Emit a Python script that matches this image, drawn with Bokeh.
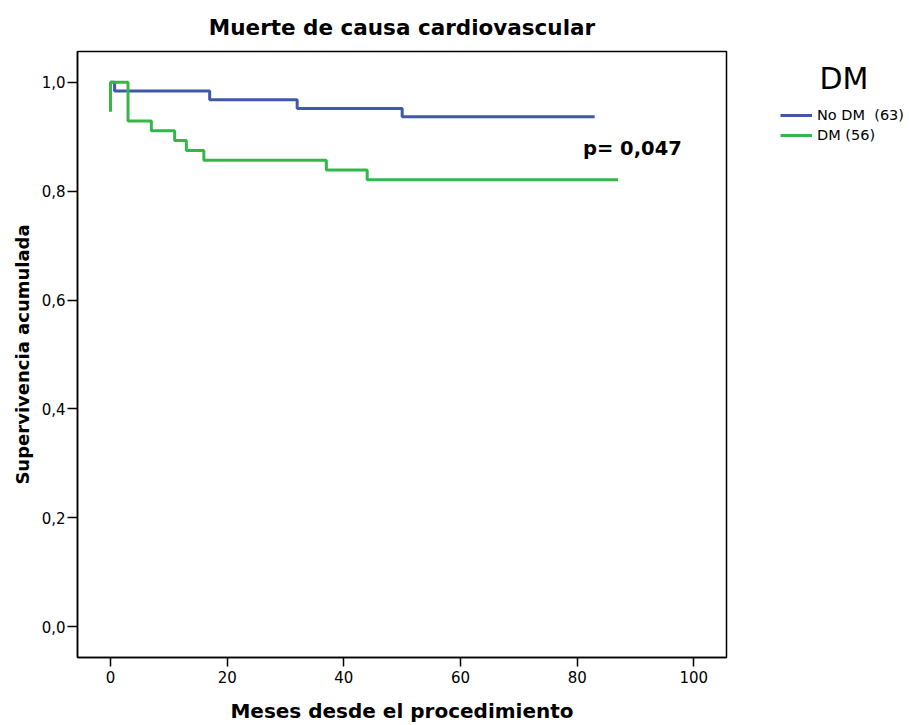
from bokeh.plotting import figure
from bokeh.layouts import row
from bokeh.models import (Range1d, FixedTicker, CustomJSTickFormatter, Label,
                          Legend, LegendItem)
from bokeh.embed import file_html
from bokeh.resources import INLINE

# Data (Kaplan-Meier steps)
nodm_time = [0, 0.7, 17, 32, 50, 83]
nodm_surv = [1.0, 0.984, 0.968, 0.952, 0.937, 0.937]
dm_time = [0, 0, 3, 7, 11, 13, 16, 37, 44, 87]
dm_surv = [0.946, 1.0, 0.929, 0.911, 0.893, 0.875, 0.857, 0.839, 0.821, 0.821]
series_names = ["No DM  (63)", "DM (56)"]
legend_title = "DM"
x_ticks = [0, 20, 40, 60, 80, 100]
y_ticks = [0.0, 0.2, 0.4, 0.6, 0.8, 1.0]
p_text = "p= 0,047"

BLUE = "#3F58A8"
GREEN = "#34B74A"

p = figure(width=730, height=725, output_backend="svg", toolbar_location=None,
           x_range=Range1d(-5.66, 105.6), y_range=Range1d(-0.0567, 1.0567),
           min_border_left=77, min_border_right=4, min_border_top=51,
           min_border_bottom=65)

p.title.text = "Muerte de causa cardiovascular"
p.title.align = "center"
p.title.text_font = "DejaVu Sans"
p.title.text_font_style = "bold"
p.title.text_font_size = "21.5px"
p.title.text_color = "black"
p.title.standoff = 23

p.xgrid.visible = False
p.ygrid.visible = False
p.outline_line_color = "black"
p.outline_line_width = 1.5
p.background_fill_color = "white"
p.border_fill_color = "white"

for ax in (p.xaxis[0], p.yaxis[0]):
    ax.axis_line_color = "black"
    ax.axis_line_width = 1.5
    ax.major_tick_line_color = "black"
    ax.major_tick_line_width = 1.5
    ax.major_tick_in = 0
    ax.minor_tick_line_color = None
    ax.major_label_text_font = "DejaVu Sans"
    ax.major_label_text_font_size = "15px"
    ax.major_label_text_color = "black"
    ax.axis_label_text_font = "DejaVu Sans"
    ax.axis_label_text_font_style = "bold"
    ax.axis_label_text_color = "black"

p.xaxis.ticker = FixedTicker(ticks=x_ticks)
p.xaxis.major_tick_out = 9
p.xaxis.major_label_standoff = 4
p.xaxis.axis_label = "Meses desde el procedimiento"
p.xaxis.axis_label_text_font_size = "20px"
p.xaxis.axis_label_standoff = 13

p.yaxis.ticker = FixedTicker(ticks=y_ticks)
p.yaxis.formatter = CustomJSTickFormatter(code="return tick.toFixed(1).replace('.', ',');")
p.yaxis.major_tick_out = 10
p.yaxis.major_label_standoff = 2
p.yaxis.axis_label = "Supervivencia acumulada"
p.yaxis.axis_label_text_font_size = "18px"
p.yaxis.axis_label_standoff = 6

p.step(nodm_time, nodm_surv, mode="after", line_color=BLUE, line_width=3)
p.step(dm_time, dm_surv, mode="after", line_color=GREEN, line_width=3)

p.add_layout(Label(x=81, y=0.879, text=p_text, text_font="DejaVu Sans",
                   text_font_style="bold", text_font_size="19.5px",
                   text_baseline="middle", text_color="black"))

# Legend panel (separate figure at the right; frame aligned with main frame,
# ranges in pixels measured from the bottom/left of the page region)
lg = figure(width=179, height=725, output_backend="svg", toolbar_location=None,
            x_range=Range1d(0, 179), y_range=Range1d(65, 674),
            x_axis_type=None, y_axis_type=None,
            min_border_left=0, min_border_right=0, min_border_top=51,
            min_border_bottom=65)
lg.xgrid.visible = False
lg.ygrid.visible = False
lg.outline_line_color = None
lg.background_fill_color = "white"
lg.border_fill_color = "white"

g1 = lg.step(nodm_time, nodm_surv, mode="after", line_color=BLUE, line_width=3,
             visible=False)
g2 = lg.step(dm_time, dm_surv, mode="after", line_color=GREEN, line_width=3,
             visible=False)

lg.add_layout(Label(x=89, y=647, text=legend_title, text_font="DejaVu Sans",
                    text_font_size="30px", text_baseline="middle",
                    text_color="black"))

legend = Legend(items=[LegendItem(label=series_names[0], renderers=[g1]),
                       LegendItem(label=series_names[1], renderers=[g2])],
                location=(50, 512), padding=0, margin=0, spacing=0,
                border_line_color=None, background_fill_alpha=0,
                glyph_width=32, glyph_height=20, label_height=20,
                label_standoff=5, label_text_font="DejaVu Sans",
                label_text_font_size="14.5px", label_text_color="black",
                click_policy="none")
lg.add_layout(legend)

layout = row(p, lg, spacing=0)
open("out.html", "w").write(file_html(layout, INLINE))
